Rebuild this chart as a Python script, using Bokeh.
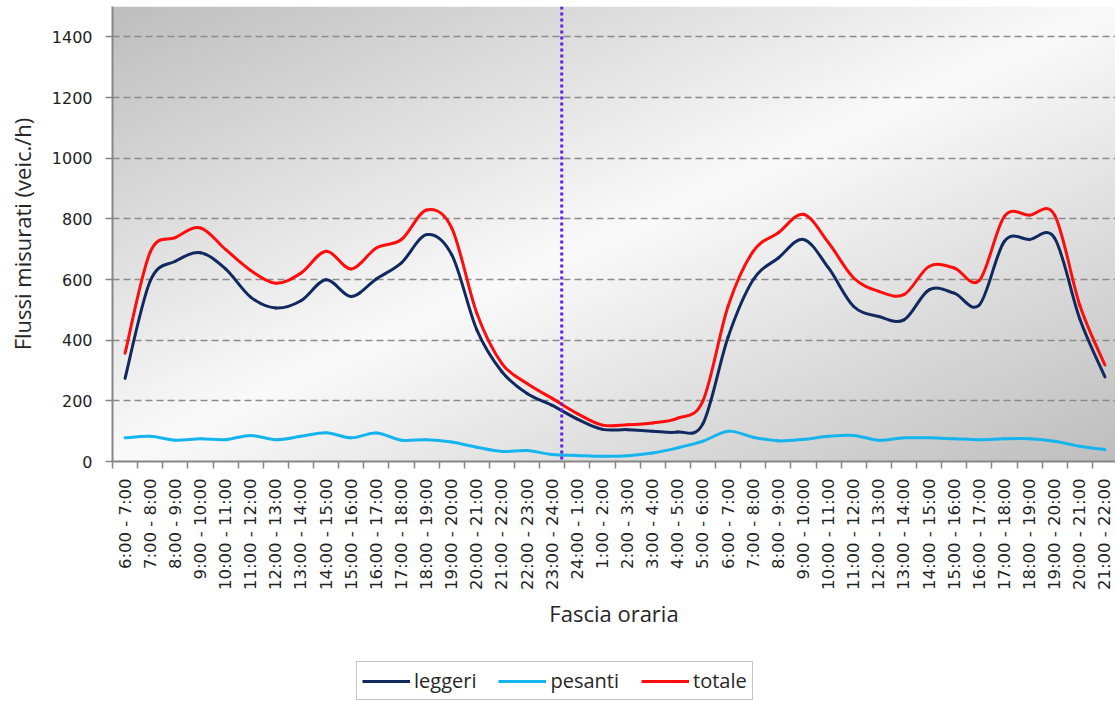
import numpy as np
from bokeh.plotting import figure
from bokeh.layouts import column
from bokeh.models import (Range1d, FixedTicker, CustomJSTickFormatter, Span, Legend,
                          LegendItem, ColumnDataSource)
from bokeh.embed import file_html
from bokeh.resources import INLINE

# Fasce orarie (due giornate consecutive)
fasce = [
    "6:00 - 7:00", "7:00 - 8:00", "8:00 - 9:00", "9:00 - 10:00", "10:00 - 11:00",
    "11:00 - 12:00", "12:00 - 13:00", "13:00 - 14:00", "14:00 - 15:00", "15:00 - 16:00",
    "16:00 - 17:00", "17:00 - 18:00", "18:00 - 19:00", "19:00 - 20:00", "20:00 - 21:00",
    "21:00 - 22:00", "22:00 - 23:00", "23:00 - 24:00",
    "24:00 - 1:00", "1:00 - 2:00", "2:00 - 3:00", "3:00 - 4:00", "4:00 - 5:00",
    "5:00 - 6:00", "6:00 - 7:00", "7:00 - 8:00", "8:00 - 9:00", "9:00 - 10:00",
    "10:00 - 11:00", "11:00 - 12:00", "12:00 - 13:00", "13:00 - 14:00", "14:00 - 15:00",
    "15:00 - 16:00", "16:00 - 17:00", "17:00 - 18:00", "18:00 - 19:00", "19:00 - 20:00",
    "20:00 - 21:00", "21:00 - 22:00",
]

# Flussi misurati (veic./h)
leggeri = [274, 595, 660, 688, 635, 542, 506, 530, 599, 544,
           602, 655, 748, 682, 434, 296, 224, 185, 140, 106,
           105, 100, 97, 125, 410, 599, 671, 732, 638, 511,
           478, 467, 566, 555, 516, 726, 732, 736, 470, 279]
pesanti = [78, 83, 70, 75, 72, 86, 72, 83, 95, 78,
           94, 70, 72, 64, 47, 33, 36, 23, 20, 17,
           19, 28, 45, 67, 100, 80, 68, 73, 83, 86,
           70, 78, 78, 75, 72, 75, 75, 67, 50, 39]
totale = [357, 690, 738, 770, 699, 630, 588, 621, 693, 635,
          704, 732, 829, 770, 489, 323, 257, 208, 158, 120,
          121, 127, 143, 200, 512, 693, 754, 815, 721, 605,
          561, 550, 643, 638, 597, 808, 812, 812, 515, 318]

y_ticks = [0, 200, 400, 600, 800, 1000, 1200, 1400]
cambio_giorno = 17.88   # separazione fra le due giornate

n = len(fasce)
x_end = n - 0.08
xc = [i + 0.5 for i in range(n)]


def smooth_source(xs, ys, k=1.0 / 6.0):
    """Cubic Bezier segments through the points (Catmull-Rom style smoothing)."""
    m = len(xs)
    d = dict(x0=[], y0=[], x1=[], y1=[], cx0=[], cy0=[], cx1=[], cy1=[])
    for i in range(m - 1):
        a = max(i - 1, 0)
        b = min(i + 2, m - 1)
        d["x0"].append(xs[i]); d["y0"].append(ys[i])
        d["x1"].append(xs[i + 1]); d["y1"].append(ys[i + 1])
        d["cx0"].append(xs[i] + (xs[i + 1] - xs[a]) * k)
        d["cy0"].append(ys[i] + (ys[i + 1] - ys[a]) * k)
        d["cx1"].append(xs[i + 1] - (xs[b] - xs[i]) * k)
        d["cy1"].append(ys[i + 1] - (ys[b] - ys[i]) * k)
    return ColumnDataSource(d)


p = figure(width=1115, height=661, output_backend="svg", toolbar_location=None,
           x_range=Range1d(0, x_end), y_range=Range1d(0, 1500),
           min_border_left=112, min_border_right=0, min_border_top=6, min_border_bottom=200)
p.outline_line_color = None
p.background_fill_color = "white"
p.border_fill_color = "white"

# diagonal grey gradient of the plotting area
W, H = 400, 200
u = np.linspace(0, 1, W)[None, :]
v = 1 - np.linspace(0, 1, H)[:, None]
dist = np.abs((u + v) - 1.0)
g = (250 - 60 * dist).astype(np.uint8)
img = np.empty((H, W), dtype=np.uint32)
view = img.view(dtype=np.uint8).reshape((H, W, 4))
view[:, :, 0] = g
view[:, :, 1] = g
view[:, :, 2] = g
view[:, :, 3] = 255
p.image_rgba(image=[img], x=0, y=0, dw=x_end, dh=1500, level="image")

# grid
p.xgrid.visible = False
p.ygrid.ticker = FixedTicker(ticks=y_ticks)
p.ygrid.grid_line_color = "#8a8a8a"
p.ygrid.grid_line_width = 1.6
p.ygrid.grid_line_dash = "7 4"

# y axis
ya = p.yaxis[0]
ya.ticker = FixedTicker(ticks=y_ticks)
ya.axis_line_color = "#868686"
ya.axis_line_width = 2
ya.major_tick_line_color = "#868686"
ya.major_tick_line_width = 1.5
ya.major_tick_out = 7
ya.major_tick_in = 0
ya.minor_tick_line_color = None
ya.major_label_standoff = 13
ya.major_label_text_font = "DejaVu Sans"
ya.major_label_text_font_size = "16px"
ya.major_label_text_color = "#1e1e1e"
ya.axis_label = "Flussi misurati (veic./h)"
ya.axis_label_text_font = "Open Sans"
ya.axis_label_text_font_size = "22px"
ya.axis_label_text_font_style = "normal"
ya.axis_label_text_color = "#262626"
ya.axis_label_standoff = 12

# x axis: labels at the centre of each slot, ticks on the slot boundaries
xa = p.xaxis[0]
xa.ticker = FixedTicker(ticks=xc, minor_ticks=list(range(n + 1)))
xa.formatter = CustomJSTickFormatter(args=dict(labels=fasce),
                                     code="return labels[Math.floor(tick)];")
xa.major_label_orientation = np.pi / 2
xa.axis_line_color = "#868686"
xa.axis_line_width = 2
xa.major_tick_line_color = None
xa.major_tick_out = 7
xa.major_tick_in = 0
xa.minor_tick_line_color = "#868686"
xa.minor_tick_line_width = 1.5
xa.minor_tick_out = 7
xa.minor_tick_in = 0
xa.major_label_standoff = 10
xa.major_label_text_font = "DejaVu Sans"
xa.major_label_text_font_size = "16.5px"
xa.major_label_text_color = "#1e1e1e"
xa.axis_label = "Fascia oraria"
xa.axis_label_text_font = "Open Sans"
xa.axis_label_text_font_size = "22px"
xa.axis_label_text_font_style = "normal"
xa.axis_label_text_color = "#262626"
xa.axis_label_standoff = 5

# separazione fra le giornate
p.add_layout(Span(location=cambio_giorno, dimension="height", line_color="#5f22e6",
                  line_width=3, line_dash="3 3"))

series = [("leggeri", leggeri, "#10295f"),
          ("pesanti", pesanti, "#16b4ee"),
          ("totale", totale, "#ff0d0d")]
for name, vals, col in series:
    p.bezier(x0="x0", y0="y0", x1="x1", y1="y1", cx0="cx0", cy0="cy0",
             cx1="cx1", cy1="cy1", source=smooth_source(xc, vals),
             line_color=col, line_width=3, line_cap="round")

# legend strip below the chart (its frame is aligned with the chart's frame)
p2 = figure(width=1115, height=40, output_backend="svg", toolbar_location=None,
            x_range=Range1d(0, x_end), y_range=Range1d(0, 1500),
            x_axis_type=None, y_axis_type=None, min_border=0)
p2.outline_line_color = None
p2.grid.visible = False
items = []
for name, vals, col in series:
    r = p2.line(xc, vals, line_color=col, line_width=3, visible=False)
    items.append(LegendItem(label=name, renderers=[r]))

legend = Legend(items=items, orientation="horizontal", location=(244, 1),
                border_line_color="#8c8c8c", border_line_width=1.5,
                background_fill_color="white", background_fill_alpha=1,
                label_text_font="Open Sans", label_text_font_size="20px",
                label_text_color="#262626",
                glyph_width=48, glyph_height=20, label_standoff=4,
                spacing=22, padding=5, margin=0)
p2.add_layout(legend)

open("out.html", "w").write(file_html(column(p, p2, spacing=0), INLINE))
